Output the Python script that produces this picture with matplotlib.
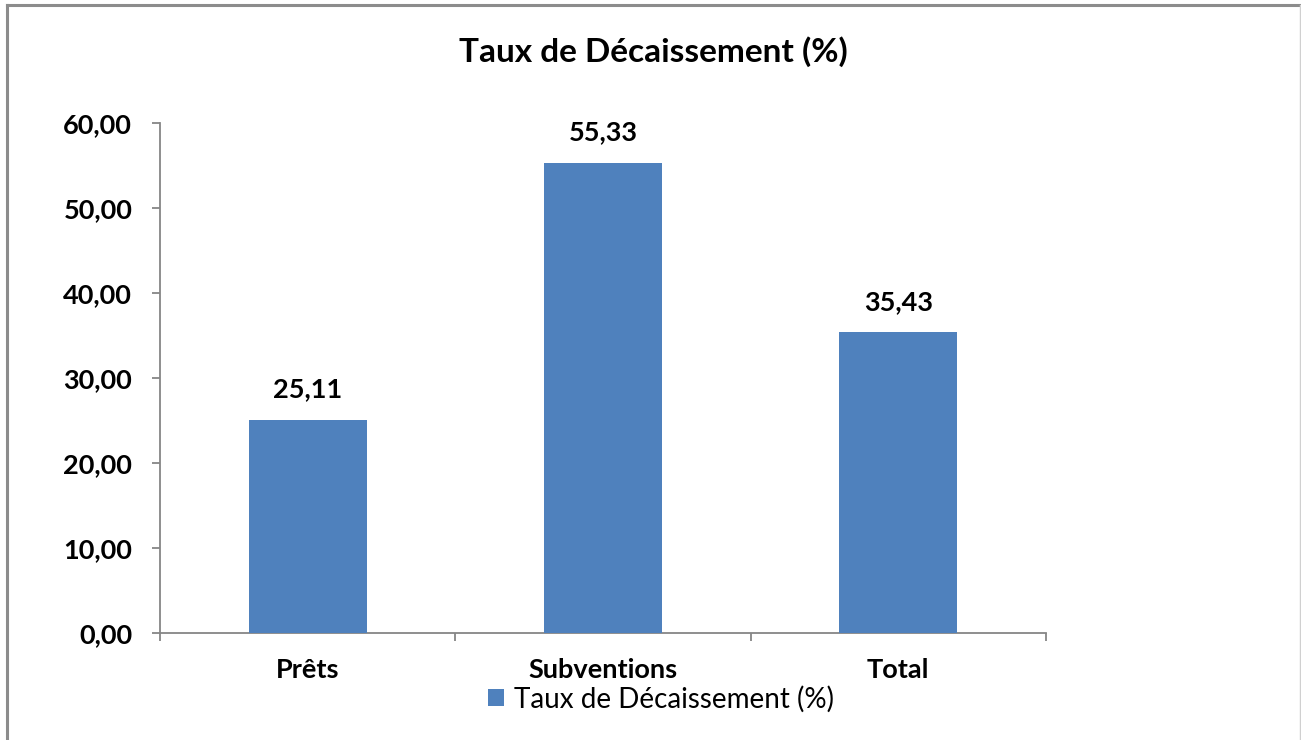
import matplotlib
matplotlib.use("Agg")
import matplotlib.pyplot as plt
from matplotlib.lines import Line2D
from matplotlib.patches import Patch

categories = ["Prêts", "Subventions", "Total"]
values = [25.11, 55.33, 35.43]
yticks = [0, 10, 20, 30, 40, 50, 60]
series_name = "Taux de Décaissement (%)"
title = "Taux de Décaissement (%)"

plt.rcParams['font.family'] = ['Lato', 'DejaVu Sans']

fig = plt.figure(figsize=(13.01, 7.40), dpi=100)
ax = fig.add_axes([160/1301, (740-633)/740, (1046-160)/1301, (633-123)/740])

x = list(range(len(categories)))
ax.bar(x, values, width=0.40, color="#4F81BD", zorder=3)

for xi, v in zip(x, values):
    ax.annotate(f"{v:.2f}".replace(".", ","), (xi, v), xytext=(0, 13),
                textcoords="offset points", ha="center", va="bottom",
                fontsize=19.5, fontweight="bold", color="#000000")

ax.set_xlim(-0.5, len(categories) - 0.5)
ax.set_ylim(0, 60)
ax.set_yticks(yticks)
ax.set_yticklabels([f"{t:.2f}".replace(".", ",") for t in yticks],
                   fontsize=19.5, fontweight="bold")
ax.set_xticks(x)
ax.set_xticklabels(categories, fontsize=19.5, fontweight="bold")
ax.set_xticks([i - 0.5 for i in range(len(categories) + 1)], minor=True)
ax.tick_params(axis="x", which="major", length=0, pad=18)
ax.tick_params(axis="x", which="minor", length=6, color="#868686", width=1.3)
ax.tick_params(axis="y", length=6, color="#868686", width=1.3, pad=14)

for s in ["top", "right"]:
    ax.spines[s].set_visible(False)
for s in ["left", "bottom"]:
    ax.spines[s].set_color("#868686")
    ax.spines[s].set_linewidth(1.3)

fig.text(653/1301, 1 - 52/740, title, ha="center", va="center",
         fontsize=24, fontweight="bold")

handle = Patch(facecolor="#4F81BD", edgecolor="none")
fig.legend([handle], [series_name], loc="center", bbox_to_anchor=(661/1301, 1 - 699/740),
           frameon=False, fontsize=20, handlelength=0.6, handleheight=0.6,
           handletextpad=0.35)

# outer chart border
border_color = "#8c8c8c"
fig.add_artist(Line2D([7/1301, 7/1301], [0, 1 - 5/740], transform=fig.transFigure,
                      color=border_color, linewidth=2.2))
fig.add_artist(Line2D([7/1301, 1300/1301], [1 - 5/740, 1 - 5/740], transform=fig.transFigure,
                      color=border_color, linewidth=2.2))
fig.add_artist(Line2D([1300/1301, 1300/1301], [0, 1 - 5/740], transform=fig.transFigure,
                      color="#d0d0d0", linewidth=1.0))

fig.savefig("out.png", dpi=100)
